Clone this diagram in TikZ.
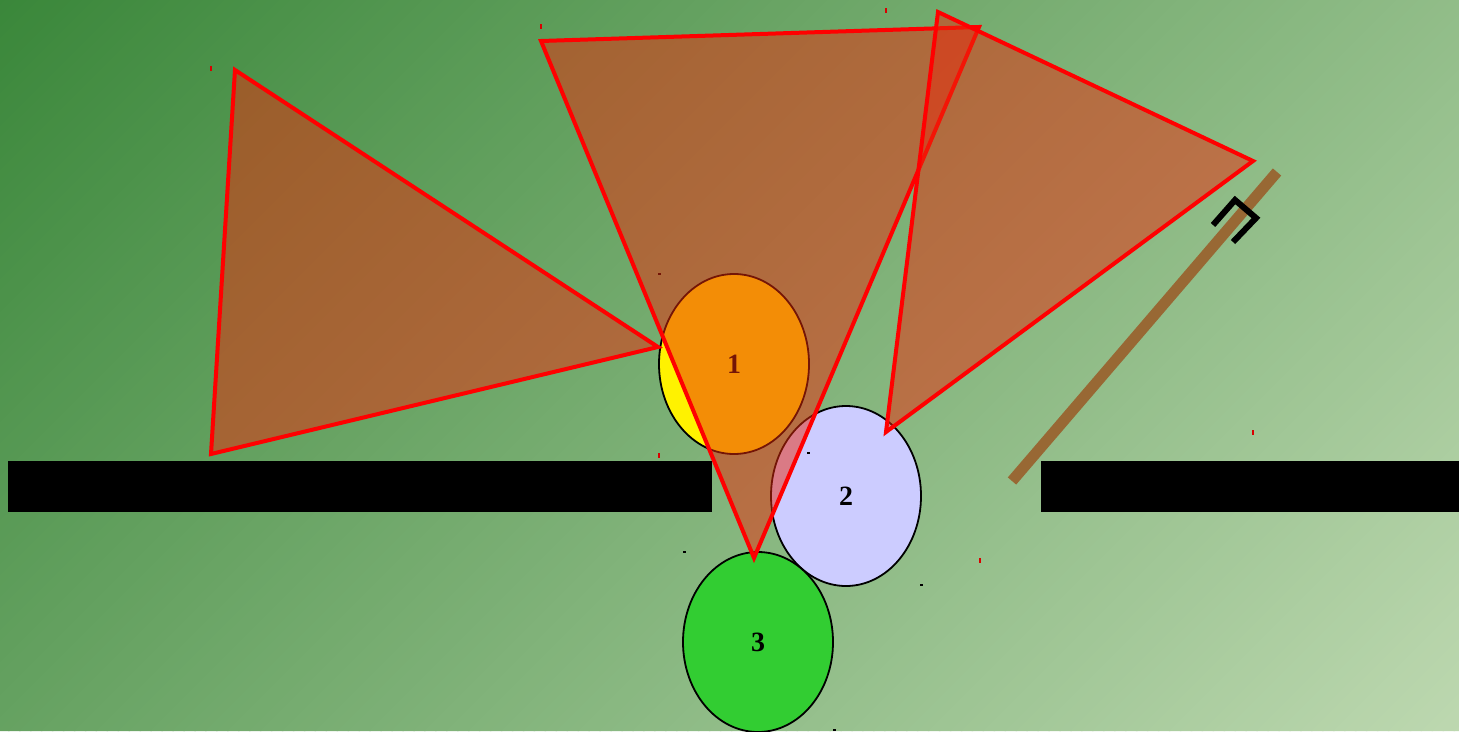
\documentclass[tikz,border=0pt]{standalone}
\usepackage{fontspec}
\setmainfont{Liberation Serif}
\usetikzlibrary{shapes.geometric}
\definecolor{bgA}{RGB}{58,135,58}
\definecolor{bgB}{RGB}{189,216,176}
\definecolor{trifill}{RGB}{233,42,12}
\definecolor{barbrown}{RGB}{152,104,52}
\definecolor{lav}{RGB}{204,204,255}
\definecolor{lime}{RGB}{50,205,50}
\tikzset{
  blob/.style={ellipse, draw=black, line width=1.8bp, minimum width=150bp, minimum height=180bp, inner sep=0pt,
    font=\fontsize{28}{32}\selectfont\bfseries},
  tri/.style={draw=red, line width=4bp, fill=trifill, fill opacity=0.5, line join=miter},
  wall/.style={fill=black},
  redtick/.style={fill=red!85!black},
  blackdot/.style={fill=black}
}
\begin{document}
\begin{tikzpicture}[x=1bp, y=-1bp]
\useasboundingbox (0,0) rectangle (1459,731);
% background gradient along 45 degrees
\begin{scope}
\clip (0,0) rectangle (1459,731);
\foreach \i in {0,...,200}{
  \pgfmathsetmacro\sa{(\i-0.5)*10.95}
  \pgfmathsetmacro\sb{(\i+0.5)*10.95+1.5}
  \pgfmathsetmacro\pc{\i/2}
  \fill[bgB!\pc!bgA] (\sa,0) -- (\sb,0) -- ({\sb-731},731) -- ({\sa-731},731) -- cycle;
}
\end{scope}
% walls
\fill[wall] (8,461) rectangle (712,512);
\fill[wall] (1041,461) rectangle (1459,512);
% door leaf
\coordinate (d0) at (1012,481);
\coordinate (d1) at (1277,172);
\draw[barbrown, line width=11bp] (d0) -- (d1);
\coordinate (k1) at (1213,225);
\coordinate (k2) at (1235,200);
\coordinate (k3) at (1256,218);
\coordinate (k4) at (1233,242);
\draw[black, line width=6bp, line join=miter] (k1) -- (k2) -- (k3) -- (k4);
% ellipses
\node[blob, fill=yellow] (e1) at (734,364) {1};
\node[blob, fill=lav] (e2) at (846,496) {2};
\node[blob, fill=lime] (e3) at (758,642) {3};
% tiny marks
\foreach \x/\y in {211/69, 541/27, 886/11, 659/455, 980/560, 1253/432}
  \fill[redtick] (\x-0.8,\y-2.5) rectangle (\x+0.8,\y+2.5);
\foreach \x/\y in {659/274, 808/453, 684/552, 921/585, 834/730}
  \fill[blackdot] (\x-1.5,\y-1) rectangle (\x+1.5,\y+1);
% triangles
\coordinate (a1) at (235,70);
\coordinate (a2) at (658,347);
\coordinate (a3) at (211,454);
\draw[tri] (a1) -- (a2) -- (a3) -- cycle;
\coordinate (b1) at (541,41);
\coordinate (b2) at (979,27);
\coordinate (b3) at (754,558);
\draw[tri] (b1) -- (b2) -- (b3) -- cycle;
\coordinate (c1) at (938,12);
\coordinate (c2) at (1253,161);
\coordinate (c3) at (886,432);
\draw[tri] (c1) -- (c2) -- (c3) -- cycle;
\end{tikzpicture}
\end{document}
